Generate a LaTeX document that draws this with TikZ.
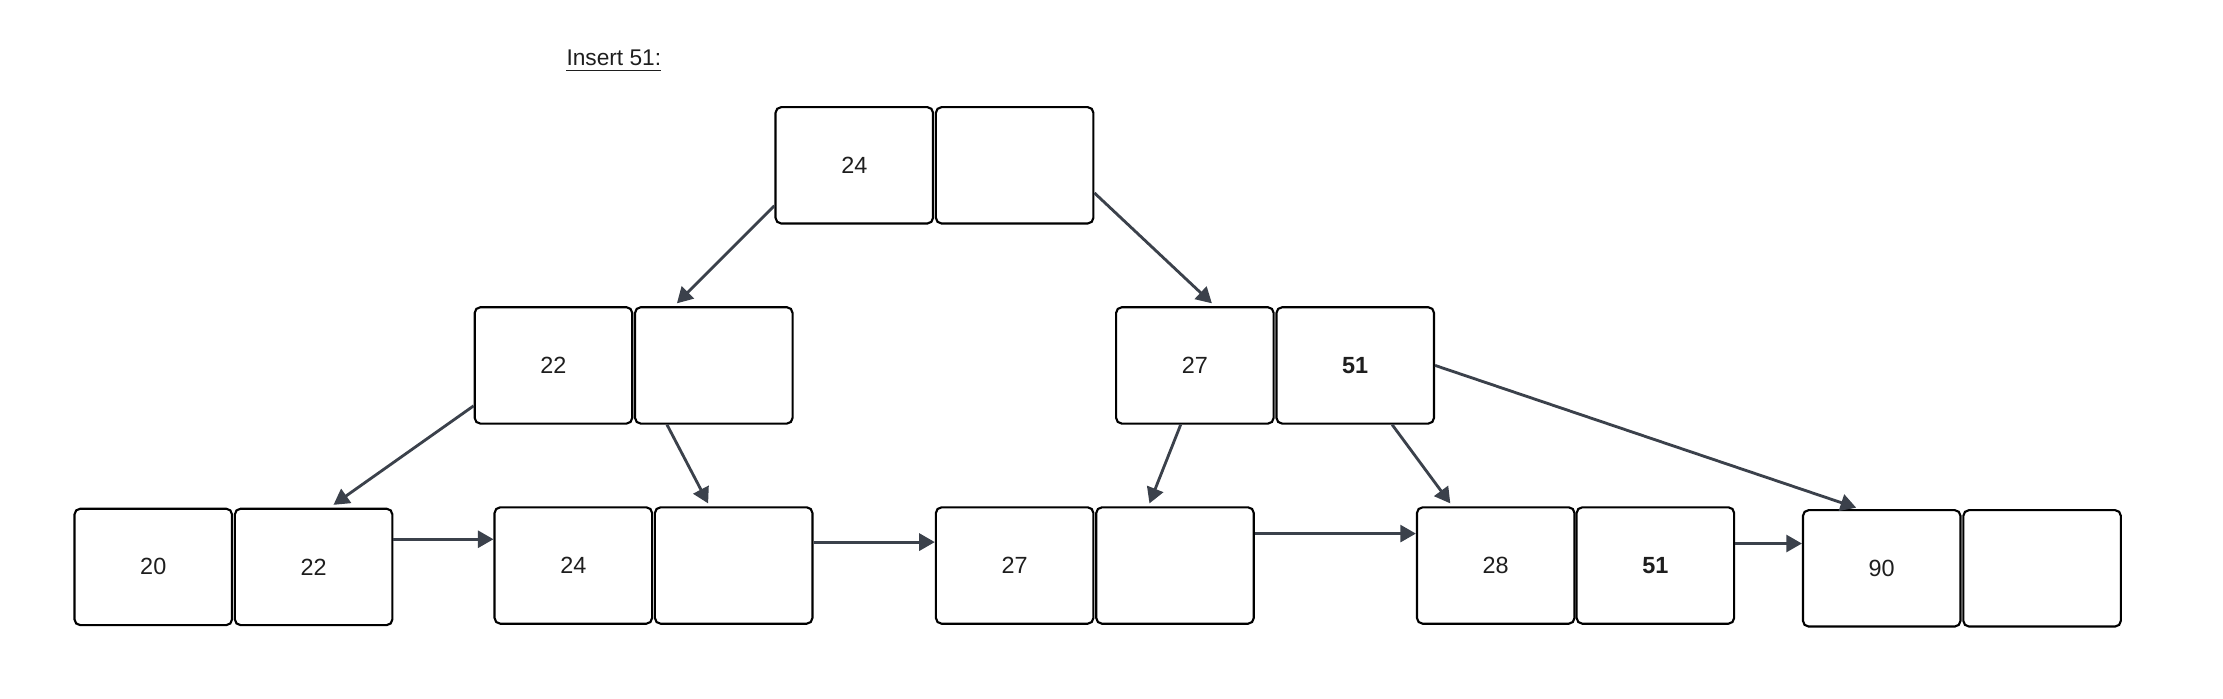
\documentclass[tikz,border=0pt]{standalone}
\usepackage{fontspec}
\setmainfont{Liberation Sans}
\usetikzlibrary{arrows.meta}
\definecolor{arrowgray}{HTML}{3B414B}
\definecolor{txt}{HTML}{1E1E1E}
\begin{document}
\begin{tikzpicture}[x=1pt,y=-1pt,
  cell/.style={draw=black,fill=white,line width=1.5pt,rounded corners=4pt,
    minimum width=111pt,minimum height=82pt,inner sep=0pt,text=txt,
    font=\fontsize{16.5}{19}\selectfont},
  arr/.style={draw=arrowgray,line width=2pt,-{Triangle[length=11pt,width=12pt]}}]
\useasboundingbox (0,0) rectangle (1566.5,491.9);
% title
\node[anchor=base west,inner sep=0pt,text=txt,font=\fontsize{16}{19}\selectfont] (title) at (399,46) {Insert 51:};
\draw[line width=1pt,txt] ([yshift=-3.5pt]title.base west) -- ([yshift=-3.5pt]title.base east);
% root
\node[cell] (r1) at (602,116.5) {24};
\node[cell] (r2) at (715,116.5) {};
% level 2
\node[cell] (a1) at (390,257.5) {22};
\node[cell] (a2) at (503,257.5) {};
\node[cell] (b1) at (842,257.5) {27};
\node[cell] (b2) at (955,257.5) {\textbf{51}};
% leaves
\node[cell] (l1a) at (108,399.5) {20};
\node[cell] (l1b) at (221,399.5) {22};
\node[cell] (l2a) at (404,398.5) {24};
\node[cell] (l2b) at (517,398.5) {};
\node[cell] (l3a) at (715,398.5) {27};
\node[cell] (l3b) at (828,398.5) {};
\node[cell] (l4a) at (1054,398.5) {28};
\node[cell] (l4b) at (1166.5,398.5) {\textbf{51}};
\node[cell] (l5a) at (1326,400.5) {90};
\node[cell] (l5b) at (1439,400.5) {};
% tree connectors
\draw[arr] ([yshift=-28.5pt]r1.west) -- ([xshift=-26pt,yshift=2pt]a2.north);
\draw[arr] ([yshift=-19.5pt]r2.east) -- ([xshift=12pt,yshift=2pt]b1.north);
\draw[arr] ([yshift=-28.5pt]a1.west) -- ([xshift=14pt,yshift=2pt]l1b.north);
\draw[arr] ([xshift=-33pt]a2.south) -- ([xshift=-18pt,yshift=2pt]l2b.north);
\draw[arr] ([xshift=-10pt]b1.south) -- ([xshift=-18pt,yshift=2pt]l3b.north);
\draw[arr] ([xshift=26pt]b2.south) -- ([xshift=-32pt,yshift=2pt]l4a.north);
\draw[arr] (b2.east) -- ([xshift=-18pt,yshift=1pt]l5a.north);
% leaf links
\draw[arr] ([yshift=19.5pt]l1b.east) -- ([yshift=18.5pt]l2a.west);
\draw[arr] ([yshift=16.5pt]l2b.east) -- ([yshift=16.5pt]l3a.west);
\draw[arr] ([yshift=22.5pt]l3b.east) -- ([yshift=22.5pt]l4a.west);
\draw[arr] ([yshift=15.5pt]l4b.east) -- ([yshift=17.5pt]l5a.west);
\end{tikzpicture}
\end{document}
